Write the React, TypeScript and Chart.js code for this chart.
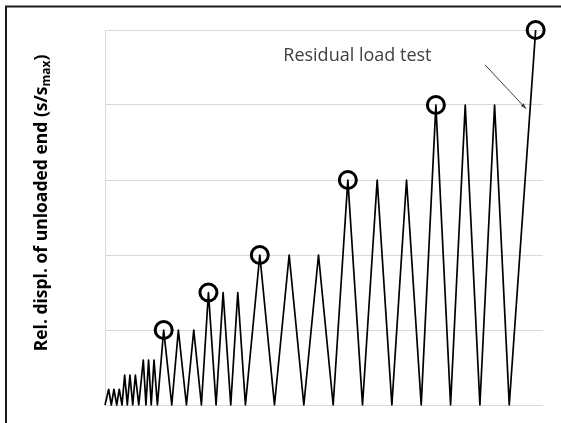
import React, { useEffect, useRef } from "react";
import { Chart, registerables } from "chart.js";

Chart.register(...registerables);

// Time axis (arbitrary units) and relative displacement s/s_max of the loading history
const times = [
  0, 0.25, 0.43, 0.61, 0.8, 0.97, 1.16,
  1.34, 1.52, 1.7, 1.89, 2.07, 2.3,
  2.61, 2.79, 2.97, 3.15, 3.34, 3.57,
  4.0, 4.55, 5.0, 5.55, 6.05, 6.57,
  7.05, 7.57, 8.05, 8.57, 9.05, 9.57,
  10.55, 11.55, 12.55, 13.55, 14.55, 15.55,
  16.55, 17.55, 18.55, 19.55, 20.55, 21.55,
  22.55, 23.55, 24.55, 25.55, 26.55, 27.55,
  29.35,
];
const displ = [
  0, 0.042, 0, 0.042, 0, 0.042, 0,
  0.08, 0, 0.08, 0, 0.08, 0,
  0.12, 0, 0.12, 0, 0.12, 0,
  0.2, 0, 0.2, 0, 0.2, 0,
  0.3, 0, 0.3, 0, 0.3, 0,
  0.4, 0, 0.4, 0, 0.4, 0,
  0.6, 0, 0.6, 0, 0.6, 0,
  0.8, 0, 0.8, 0, 0.8, 0,
  1.0,
];

// Circled peaks
const circleTimes = [4.0, 7.05, 10.55, 16.55, 22.55, 29.35];
const circleDispl = [0.2, 0.3, 0.4, 0.6, 0.8, 1.0];

const yTitleMain = "Rel. displ. of unloaded end (s/s";
const yTitleSub = "max";
const yTitleEnd = ")";
const annotationText = "Residual load test";
// annotation anchor (data units)
const annotationTextPos = [17.2, 0.93];
const arrowFrom = [25.9, 0.907];
const arrowTo = [28.7, 0.79];

export default function App() {
  const ref = useRef<HTMLCanvasElement | null>(null);

  useEffect(() => {
    const canvas = ref.current;
    if (!canvas) return;

    const overlay = {
      id: "overlay",
      afterDraw(chart: any) {
        const ctx = chart.ctx;
        const xs = chart.scales.x;
        const ys = chart.scales.y;
        ctx.save();
        // frame (top & left)
        ctx.strokeStyle = "#1a1a1a";
        ctx.lineWidth = 2;
        ctx.beginPath();
        ctx.moveTo(6, 423);
        ctx.lineTo(6, 6.5);
        ctx.lineTo(561, 6.5);
        ctx.stroke();

        // y-axis title with subscript
        const mainFont = "bold 17.5px 'Open Sans', sans-serif";
        const subFont = "bold 12px 'Open Sans', sans-serif";
        ctx.font = mainFont;
        const w1 = ctx.measureText(yTitleMain).width;
        const w3 = ctx.measureText(yTitleEnd).width;
        ctx.font = subFont;
        const w2 = ctx.measureText(yTitleSub).width;
        const total = w1 + w2 + w3;
        const cx = 42;
        const cy = 203;
        ctx.translate(cx, cy);
        ctx.rotate(-Math.PI / 2);
        ctx.fillStyle = "#000";
        ctx.textBaseline = "middle";
        ctx.textAlign = "left";
        let x0 = -total / 2;
        ctx.font = mainFont;
        ctx.fillText(yTitleMain, x0, 0);
        ctx.font = subFont;
        ctx.fillText(yTitleSub, x0 + w1, 4.5);
        ctx.font = mainFont;
        ctx.fillText(yTitleEnd, x0 + w1 + w2, 0);
        ctx.setTransform(1, 0, 0, 1, 0, 0);

        // annotation
        ctx.font = "18px 'Open Sans', sans-serif";
        ctx.fillStyle = "#404040";
        ctx.textAlign = "center";
        ctx.textBaseline = "middle";
        ctx.fillText(
          annotationText,
          xs.getPixelForValue(annotationTextPos[0]),
          ys.getPixelForValue(annotationTextPos[1])
        );
        const ax = xs.getPixelForValue(arrowFrom[0]);
        const ay = ys.getPixelForValue(arrowFrom[1]);
        const bx = xs.getPixelForValue(arrowTo[0]);
        const by = ys.getPixelForValue(arrowTo[1]);
        ctx.strokeStyle = "#404040";
        ctx.lineWidth = 1;
        ctx.beginPath();
        ctx.moveTo(ax, ay);
        ctx.lineTo(bx, by);
        ctx.stroke();
        const ang = Math.atan2(by - ay, bx - ax);
        const L = 6;
        ctx.fillStyle = "#404040";
        ctx.beginPath();
        ctx.moveTo(bx, by);
        ctx.lineTo(bx - L * Math.cos(ang - 0.35), by - L * Math.sin(ang - 0.35));
        ctx.lineTo(bx - L * Math.cos(ang + 0.35), by - L * Math.sin(ang + 0.35));
        ctx.closePath();
        ctx.fill();
        ctx.restore();
      },
    };

    const chart = new Chart(canvas, {
      type: "line",
      data: {
        datasets: [
          {
            data: times.map((t, i) => ({ x: t, y: displ[i] })),
            borderColor: "#000",
            borderWidth: 1.7,
            borderJoinStyle: "round",
            pointRadius: 0,
            tension: 0,
            fill: false,
            clip: false,
          },
          {
            data: circleTimes.map((t, i) => ({ x: t, y: circleDispl[i] })),
            showLine: false,
            pointStyle: "circle",
            pointRadius: 8.5,
            pointBorderWidth: 3,
            pointBorderColor: "#000",
            pointBackgroundColor: "rgba(0,0,0,0)",
            borderColor: "#000",
            backgroundColor: "rgba(0,0,0,0)",
            clip: false,
          },
        ],
      },
      options: {
        responsive: false,
        animation: false,
        layout: { padding: { left: 105, right: 18, top: 30, bottom: 18 } },
        plugins: {
          legend: { display: false },
          tooltip: { enabled: false },
        },
        scales: {
          x: {
            type: "linear",
            min: 0,
            max: 29.85,
            display: false,
          },
          y: {
            type: "linear",
            min: 0,
            max: 1,
            ticks: { display: false, stepSize: 0.2 },
            grid: { color: "#d9d9d9", lineWidth: 1, drawTicks: false },
            border: { display: true, color: "#d9d9d9", width: 1 },
            afterFit: (s: any) => {
              s.width = 0;
            },
          },
        },
      },
      plugins: [overlay],
    });
    return () => chart.destroy();
  }, []);

  return (
    <div style={{ position: "fixed", left: 0, top: 0, width: 561, height: 423, background: "#fff" }}>
      <canvas ref={ref} width={561} height={423} style={{ display: "block" }} />
    </div>
  );
}
